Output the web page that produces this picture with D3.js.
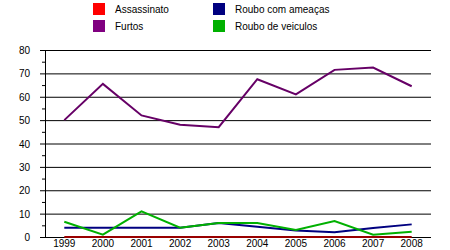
<!DOCTYPE html>
<html>
<head>
<meta charset="utf-8">
<script src="https://cdn.jsdelivr.net/npm/d3@7"></script>
<style>
body { margin: 0; background: #fff; }
text { font-family: "Liberation Sans", Arial, sans-serif; }
</style>
</head>
<body>
<div id="chart"></div>
<script>
var years = ['1999','2000','2001','2002','2003','2004','2005','2006','2007','2008']
var assassinato = [0, 0, 0, 0, 0, 0, 0, 0, 0, 0]
var furtos = [50, 65.5, 52, 48, 47, 67.5, 61, 71.5, 72.5, 64.5]
var rouboAmeacas = [4, 4, 4, 4, 6, 4.4, 2.8, 2, 3.8, 5.4]
var rouboVeiculos = [6.5, 1, 11, 4, 6, 6, 3, 6.8, 1, 2.2]
var yTicks = [0, 10, 20, 30, 40, 50, 60, 70, 80]

var series = [
    {name: 'Assassinato', values: assassinato, color: '#ff0000', line: '#990000'},
    {name: 'Furtos', values: furtos, color: '#800080', line: '#660066'},
    {name: 'Roubo com ameaças', values: rouboAmeacas, color: '#000080', line: '#000080'},
    {name: 'Roubo de veiculos', values: rouboVeiculos, color: '#00b000', line: '#00b000'}
]

var width = 450, height = 250
var svg = d3.select('#chart').append('svg')
    .attr('width', width)
    .attr('height', height)

var x = d3.scaleBand().domain(years).range([45, 431])
var y = d3.scaleLinear().domain([0, 80]).range([237, 50])

// grid lines
svg.append('g')
    .selectAll('line')
    .data(yTicks)
    .enter()
    .append('line')
    .attr('x1', 40)
    .attr('x2', 431)
    .attr('y1', d => y(d) + 0.5)
    .attr('y2', d => y(d) + 0.5)
    .attr('stroke', '#000')
    .attr('stroke-width', 1)

// minor ticks
svg.append('g')
    .selectAll('line')
    .data(d3.range(5, 80, 10))
    .enter()
    .append('line')
    .attr('x1', 42)
    .attr('x2', 45)
    .attr('y1', d => y(d) + 0.5)
    .attr('y2', d => y(d) + 0.5)
    .attr('stroke', '#000')

// y axis line
svg.append('line')
    .attr('x1', 45.5).attr('x2', 45.5)
    .attr('y1', y(80)).attr('y2', y(0))
    .attr('stroke', '#000')

svg.append('g')
    .selectAll('text')
    .data(yTicks)
    .enter()
    .append('text')
    .attr('x', 30)
    .attr('y', d => y(d) + 4)
    .attr('text-anchor', 'end')
    .attr('font-size', 10)
    .text(d => d)

svg.append('g')
    .selectAll('text')
    .data(years)
    .enter()
    .append('text')
    .attr('x', d => x(d) + x.bandwidth() / 2)
    .attr('y', 247)
    .attr('text-anchor', 'middle')
    .attr('font-size', 10)
    .text(d => d)

var line = d3.line()
    .x((d, i) => x(years[i]) + x.bandwidth() / 2)
    .y(d => y(d))

svg.append('g')
    .selectAll('path')
    .data(series)
    .enter()
    .append('path')
    .attr('d', d => line(d.values))
    .attr('fill', 'none')
    .attr('stroke', d => d.line)
    .attr('stroke-width', 2)

// legend
var legend = svg.append('g')
    .selectAll('g')
    .data(series)
    .enter()
    .append('g')
    .attr('transform', (d, i) => 'translate(' + (93 + Math.floor(i / 2) * 120) + ',' + (3 + (i % 2) * 17) + ')')

legend.append('rect')
    .attr('width', 12)
    .attr('height', 12)
    .attr('fill', d => d.color)

legend.append('text')
    .attr('x', 22)
    .attr('y', 10)
    .attr('font-size', 10)
    .text(d => d.name)
</script>
</body>
</html>
